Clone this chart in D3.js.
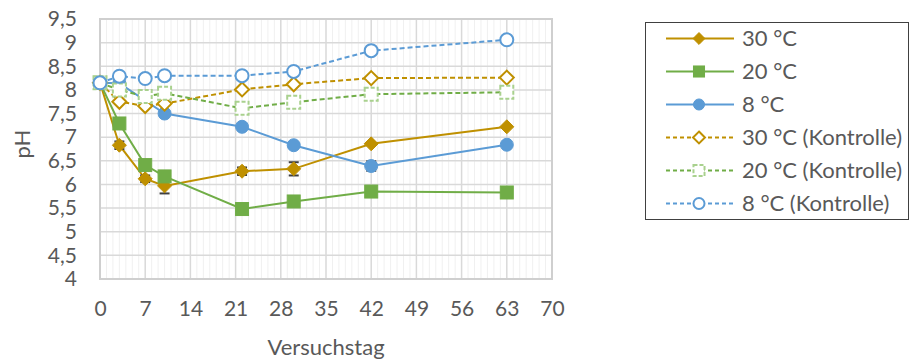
<!DOCTYPE html>
<html>
<head>
<meta charset="utf-8">
<script src="https://cdn.jsdelivr.net/npm/d3@7"></script>
<style>
  html, body { margin: 0; padding: 0; background: #fff; }
  svg text { font-family: Lato, "Open Sans", sans-serif; fill: #595959; }
</style>
</head>
<body>
<svg id="chart" width="910" height="361"></svg>
<script>
// Sampling days (Versuchstag)
const days = [0, 3, 7, 10, 22, 30, 42, 63];

// pH values per series (null = no measurement)
const ph30 = [8.15, 6.83, 6.12, 5.97, 6.28, 6.33, 6.86, 7.22];
const ph20 = [8.15, 7.29, 6.41, 6.17, 5.48, 5.64, 5.85, 5.83];
const ph8 = [8.15, 8.14, null, 7.50, 7.22, 6.83, 6.39, 6.84];
const ph30K = [8.15, 7.75, 7.66, 7.71, 8.01, 8.12, 8.25, 8.26];
const ph20K = [8.15, 8.00, 7.86, 7.93, 7.61, 7.74, 7.91, 7.95];
const ph8K = [8.15, 8.29, 8.24, 8.30, 8.30, 8.39, 8.83, 9.06];

// Standard deviations (error bars)
const err30 = [0, 0.08, 0.07, 0.16, 0.08, 0.14, 0, 0];
const err20 = [0, 0, 0, 0, 0, 0, 0, 0];
const err8 = [0, 0, 0, 0, 0, 0, 0.10, 0];

const seriesNames = ["30 °C", "20 °C", "8 °C", "30 °C (Kontrolle)", "20 °C (Kontrolle)", "8 °C (Kontrolle)"];

const xTicks = [0, 7, 14, 21, 28, 35, 42, 49, 56, 63, 70];
const yTicks = [4, 4.5, 5, 5.5, 6, 6.5, 7, 7.5, 8, 8.5, 9, 9.5];

const gold = "#BF9000", green = "#70AD47", blue = "#5B9BD5", lightGreen = "#A9D18E";

const series = [
  { name: seriesNames[0], values: ph30, err: err30, color: gold, stroke: gold, fill: gold, shape: "diamond", dash: null },
  { name: seriesNames[1], values: ph20, err: err20, color: green, stroke: green, fill: green, shape: "square", dash: null },
  { name: seriesNames[2], values: ph8, err: err8, color: blue, stroke: blue, fill: blue, shape: "circle", dash: null },
  { name: seriesNames[3], values: ph30K, err: null, color: gold, stroke: gold, fill: "#fff", shape: "diamond", dash: "5,3" },
  { name: seriesNames[4], values: ph20K, err: null, color: green, stroke: lightGreen, fill: "#fff", shape: "square", dash: "5,3", markerDash: "4,2" },
  { name: seriesNames[5], values: ph8K, err: null, color: blue, stroke: blue, fill: "#fff", shape: "circle", dash: "5,3" }
];

const svg = d3.select("#chart");
const plot = { left: 100, right: 552, top: 19, bottom: 279 };

const x = d3.scaleLinear().domain([0, 70]).range([plot.left, plot.right]);
const y = d3.scaleLinear().domain([4, 9.5]).range([plot.bottom, plot.top]);

// Minor vertical gridlines every day
const grid = svg.append("g");
grid.selectAll("line.minor").data(d3.range(0, 71, 1).filter(d => d % 7 !== 0))
  .join("line")
  .attr("x1", d => x(d)).attr("x2", d => x(d))
  .attr("y1", plot.top).attr("y2", plot.bottom)
  .attr("stroke", "#f0f0f0").attr("stroke-width", 1);

// Major gridlines
grid.selectAll("line.vmaj").data(xTicks)
  .join("line")
  .attr("x1", d => x(d)).attr("x2", d => x(d))
  .attr("y1", plot.top).attr("y2", plot.bottom)
  .attr("stroke", "#d9d9d9").attr("stroke-width", 1.5);
grid.selectAll("line.hmaj").data(yTicks)
  .join("line")
  .attr("x1", plot.left).attr("x2", plot.right)
  .attr("y1", d => y(d)).attr("y2", d => y(d))
  .attr("stroke", "#d9d9d9").attr("stroke-width", 1.5);

// Plot border
svg.append("rect")
  .attr("x", plot.left).attr("y", plot.top)
  .attr("width", plot.right - plot.left).attr("height", plot.bottom - plot.top)
  .attr("fill", "none").attr("stroke", "#cfcfcf").attr("stroke-width", 2);

// Axes (labels only, lines come from the grid)
const fmt = d => String(d).replace(".", ",");
const yAxis = svg.append("g")
  .attr("transform", `translate(${plot.left},0)`)
  .call(d3.axisLeft(y).tickValues(yTicks).tickFormat(fmt).tickSize(0).tickPadding(23));
const xAxis = svg.append("g")
  .attr("transform", `translate(0,${plot.bottom})`)
  .call(d3.axisBottom(x).tickValues(xTicks).tickFormat(fmt).tickSize(0).tickPadding(22));
[yAxis, xAxis].forEach(a => {
  a.select(".domain").remove();
  a.selectAll("text").attr("font-size", 21).style("font-family", "Lato, 'Open Sans', sans-serif").attr("fill", "#595959");
});

// Axis titles
svg.append("text")
  .attr("x", (plot.left + plot.right) / 2).attr("y", 355)
  .attr("text-anchor", "middle").attr("font-size", 22)
  .text("Versuchstag");
svg.append("text")
  .attr("transform", "translate(30,144) rotate(-90)")
  .attr("text-anchor", "middle").attr("font-size", 22)
  .text("pH");

// Marker drawing helper
function drawMarker(g, s, cx, cy, scale) {
  const k = scale || 1;
  let m;
  if (s.shape === "diamond") {
    const r = 7 * k;
    m = g.append("path").attr("d", `M${cx},${cy - r}L${cx + r},${cy}L${cx},${cy + r}L${cx - r},${cy}Z`);
  } else if (s.shape === "square") {
    const h = 6.5 * k;
    m = g.append("rect").attr("x", cx - h).attr("y", cy - h).attr("width", 2 * h).attr("height", 2 * h);
  } else {
    m = g.append("circle").attr("cx", cx).attr("cy", cy).attr("r", 6.5 * k);
  }
  m.attr("fill", s.fill).attr("stroke", s.stroke).attr("stroke-width", s.fill === "#fff" ? 2 : 1);
  if (s.markerDash) m.attr("stroke-dasharray", s.markerDash);
  return m;
}

const line = d3.line()
  .defined(d => d.v !== null)
  .x(d => x(d.day)).y(d => y(d.v));

series.forEach(s => {
  const pts = days.map((day, i) => ({ day, v: s.values[i], e: s.err ? s.err[i] : 0 }));
  const valid = pts.filter(p => p.v !== null);
  const g = svg.append("g");
  g.append("path")
    .datum(valid)
    .attr("d", line)
    .attr("fill", "none")
    .attr("stroke", s.color)
    .attr("stroke-width", 2)
    .attr("stroke-dasharray", s.dash);
  // error bars
  valid.filter(p => p.e > 0).forEach(p => {
    const eg = g.append("g").attr("stroke", "#404040").attr("stroke-width", 1.5);
    eg.append("line").attr("x1", x(p.day)).attr("x2", x(p.day)).attr("y1", y(p.v - p.e)).attr("y2", y(p.v + p.e));
    [p.v - p.e, p.v + p.e].forEach(v => {
      eg.append("line").attr("x1", x(p.day) - 5).attr("x2", x(p.day) + 5).attr("y1", y(v)).attr("y2", y(v)).attr("stroke-width", 2);
    });
  });
  valid.forEach(p => drawMarker(g, s, x(p.day), y(p.v)));
});

// Legend
const legend = svg.append("g");
legend.append("rect")
  .attr("x", 645.5).attr("y", 22.5).attr("width", 263).attr("height", 197)
  .attr("fill", "#fff").attr("stroke", "#404040").attr("stroke-width", 1);
series.forEach((s, i) => {
  const ly = 38.5 + i * 33;
  const lg = legend.append("g");
  lg.append("line")
    .attr("x1", 666).attr("x2", 734).attr("y1", ly).attr("y2", ly)
    .attr("stroke", s.color).attr("stroke-width", 2)
    .attr("stroke-dasharray", s.dash ? "4,3" : null);
  drawMarker(lg, s, 699, ly, 0.85);
  lg.append("text")
    .attr("x", 742).attr("y", ly + 7.5)
    .attr("font-size", 22)
    .text(s.name);
});
</script>
</body>
</html>
